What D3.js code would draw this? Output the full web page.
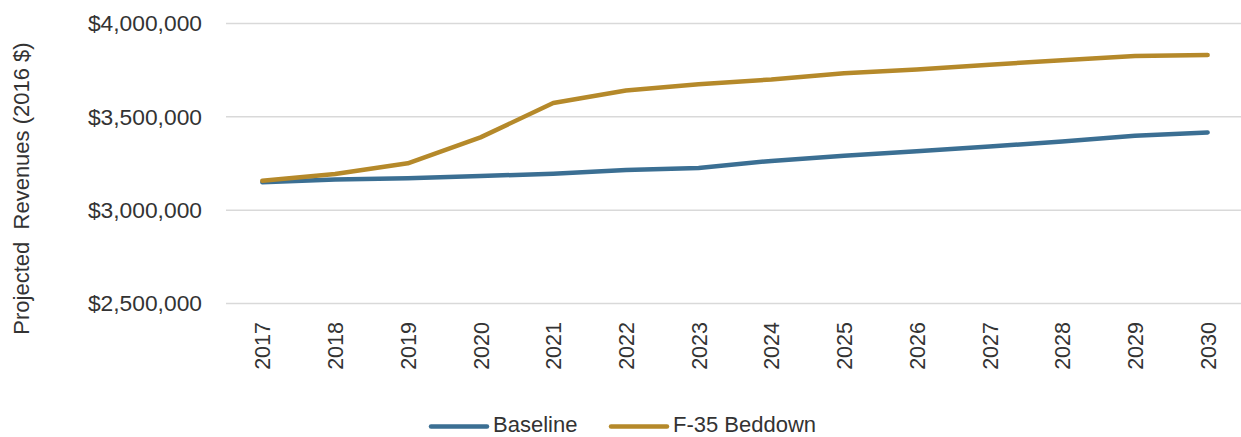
<!DOCTYPE html>
<html>
<head>
<meta charset="utf-8">
<script src="https://cdn.jsdelivr.net/npm/d3@7/dist/d3.min.js"></script>
<style>
  html, body { margin: 0; padding: 0; background: #fff; }
  svg { display: block; font-family: "Liberation Sans", Arial, sans-serif; }
</style>
</head>
<body>
<svg id="chart" width="1241" height="437"></svg>
<script>
// Projected revenues by year, two scenarios (2016 dollars)
const years = [2017, 2018, 2019, 2020, 2021, 2022, 2023, 2024, 2025, 2026, 2027, 2028, 2029, 2030];
const baseline = [3150000, 3164000, 3171000, 3183000, 3195000, 3215000, 3226000, 3264000, 3292000, 3316000, 3341000, 3368000, 3399000, 3416000];
const beddown = [3157000, 3194000, 3251000, 3390000, 3574000, 3641000, 3675000, 3700000, 3734000, 3753000, 3779000, 3803000, 3826000, 3831000];
const yTicks = [2500000, 3000000, 3500000, 4000000];
const seriesNames = ["Baseline", "F-35 Beddown"];
const seriesColors = ["#3b6f93", "#b5892a"];

const W = 1241, H = 437;
const svg = d3.select("#chart");

const x = d3.scalePoint().domain(years).range([226, 1244]).padding(0.5);
const y = d3.scaleLinear().domain([2500000, 4000000]).range([303.5, 23.5]);

const fmt = v => "$" + d3.format(",")(v);
const textColor = "#333";
const fontFam = "'Liberation Sans', Arial, sans-serif";

// horizontal gridlines
svg.append("g")
  .selectAll("line")
  .data(yTicks)
  .join("line")
  .attr("x1", 226).attr("x2", W)
  .attr("y1", d => y(d)).attr("y2", d => y(d))
  .attr("stroke", "#d9d9d9").attr("stroke-width", 1.5);

// y axis labels
const yAxis = d3.axisLeft(y).tickValues(yTicks).tickFormat(fmt).tickSize(0).tickPadding(0);
svg.append("g")
  .attr("transform", "translate(202,0)")
  .call(yAxis)
  .call(g => g.select(".domain").remove())
  .call(g => g.selectAll("text")
    .attr("font-size", 22.8)
    .attr("fill", textColor)
    .attr("font-family", fontFam));

// x axis labels, rotated
const xAxis = d3.axisBottom(x).tickSize(0).tickPadding(0);
svg.append("g")
  .attr("transform", "translate(0,322)")
  .call(xAxis)
  .call(g => g.select(".domain").remove())
  .call(g => g.selectAll("text")
    .attr("font-size", 21.5)
    .attr("fill", textColor)
    .attr("font-family", fontFam)
    .attr("text-anchor", "end")
    .attr("dy", "0.35em")
    .attr("y", 0)
    .attr("transform", "rotate(-90)"));

// y axis title
svg.append("text")
  .attr("transform", "translate(21,188.5) rotate(-90)")
  .attr("text-anchor", "middle")
  .attr("dy", "0.35em")
  .attr("font-size", 22)
  .attr("fill", textColor)
  .attr("xml:space", "preserve")
  .text("Projected  Revenues (2016 $)");

// series lines
const line = d3.line()
  .x((d, i) => x(years[i]))
  .y(d => y(d));

[baseline, beddown].forEach((vals, k) => {
  svg.append("path")
    .datum(vals)
    .attr("d", line)
    .attr("fill", "none")
    .attr("stroke", seriesColors[k])
    .attr("stroke-width", 4.5)
    .attr("stroke-linecap", "round")
    .attr("stroke-linejoin", "round");
});

// legend
const legendItems = [
  { name: seriesNames[0], color: seriesColors[0], x0: 431 },
  { name: seriesNames[1], color: seriesColors[1], x0: 611 }
];
const lg = svg.append("g");
legendItems.forEach(it => {
  lg.append("line")
    .attr("x1", it.x0).attr("x2", it.x0 + 56)
    .attr("y1", 426.5).attr("y2", 426.5)
    .attr("stroke", it.color).attr("stroke-width", 4.5)
    .attr("stroke-linecap", "round");
  lg.append("text")
    .attr("x", it.x0 + 62).attr("y", 431.5)
    .attr("font-size", 22)
    .attr("fill", textColor)
    .text(it.name);
});
</script>
</body>
</html>
